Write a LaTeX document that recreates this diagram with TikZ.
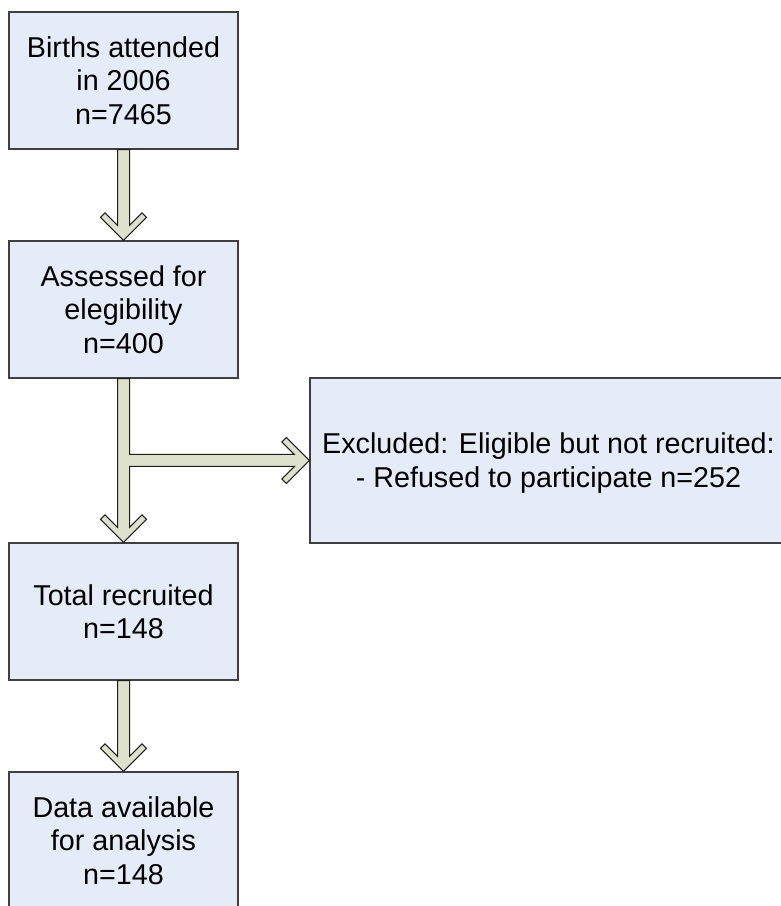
\documentclass[tikz,border=0pt]{standalone}
\usepackage{fontspec}
\setmainfont{Liberation Sans}
\usetikzlibrary{calc}
\definecolor{boxfill}{RGB}{229,235,247}
\definecolor{boxline}{RGB}{64,64,64}
\definecolor{arrowfill}{RGB}{221,225,204}
\definecolor{arrowline}{RGB}{30,30,30}
\tikzset{
  flowbox/.style={draw=boxline, line width=1.3pt, fill=boxfill, rectangle,
    minimum width=229pt, minimum height=137pt, align=center, inner sep=0pt,
    font=\fontsize{28.7}{33.5}\selectfont, text=black},
  widebox/.style={flowbox, minimum width=477pt, minimum height=165pt},
  blockarrow/.style={draw=arrowline, line width=1pt, fill=arrowfill, line join=miter},
}
\begin{document}
\begin{tikzpicture}[x=1pt,y=1pt]
  \useasboundingbox (0,0) rectangle (781,906);
  \clip (0,0) rectangle (781,906);
  \fill[white] (0,0) rectangle (781,906);

  % boxes of the flow
  \node[flowbox] (births)   at (123.5,825.5) {Births attended\\in 2006\\n=7465};
  \node[flowbox] (assessed) at (123.5,596.5) {Assessed for\\elegibility\\n=400};
  \node[widebox] (excluded) at (548.5,445.5) {};
  \node[font=\fontsize{28.7}{33.5}\selectfont, align=center, inner sep=0pt]
    (excludedtext) at ($(excluded.center)+(0,-2.5)$)
    {Excluded: Eligible but not recruited:\\- Refused to participate n=252};
  \node[flowbox] (recruited) at (123.5,294.5) {Total recruited\\n=148};
  \node[flowbox] (data)     at (123.5,65.5) {Data available\\for analysis\\n=148};

  % block arrow with chevron head: births -> assessed
  \draw[blockarrow]
    ($(births.south)+(-6,0)$) -- ($(assessed.north)+(-6,15)$)
    -- ($(assessed.north)+(-18.5,27.5)$) -- ($(assessed.north)+(-23,23)$)
    -- (assessed.north)
    -- ($(assessed.north)+(23,23)$) -- ($(assessed.north)+(18.5,27.5)$)
    -- ($(assessed.north)+(6,15)$) -- ($(births.south)+(6,0)$) -- cycle;

  % branched block arrow: assessed -> recruited, with side branch -> excluded
  \coordinate (fork) at ($(assessed.south)!0.5!(recruited.north)$);
  \coordinate (branch) at (fork -| excluded.west);
  \draw[blockarrow]
    ($(assessed.south)+(-6,0)$) -- ($(recruited.north)+(-6,15)$)
    -- ($(recruited.north)+(-18.5,27.5)$) -- ($(recruited.north)+(-23,23)$)
    -- (recruited.north)
    -- ($(recruited.north)+(23,23)$) -- ($(recruited.north)+(18.5,27.5)$)
    -- ($(recruited.north)+(6,15)$)
    -- ($(assessed.south |- branch)+(6,-6)$) -- ($(branch)+(-15,-6)$)
    -- ($(branch)+(-27.5,-18.5)$) -- ($(branch)+(-23,-23)$)
    -- (branch)
    -- ($(branch)+(-23,23)$) -- ($(branch)+(-27.5,18.5)$)
    -- ($(branch)+(-15,6)$) -- ($(assessed.south |- branch)+(6,6)$)
    -- ($(assessed.south)+(6,0)$) -- cycle;

  % block arrow: recruited -> data
  \draw[blockarrow]
    ($(recruited.south)+(-6,0)$) -- ($(data.north)+(-6,15)$)
    -- ($(data.north)+(-18.5,27.5)$) -- ($(data.north)+(-23,23)$)
    -- (data.north)
    -- ($(data.north)+(23,23)$) -- ($(data.north)+(18.5,27.5)$)
    -- ($(data.north)+(6,15)$) -- ($(recruited.south)+(6,0)$) -- cycle;
\end{tikzpicture}
\end{document}
